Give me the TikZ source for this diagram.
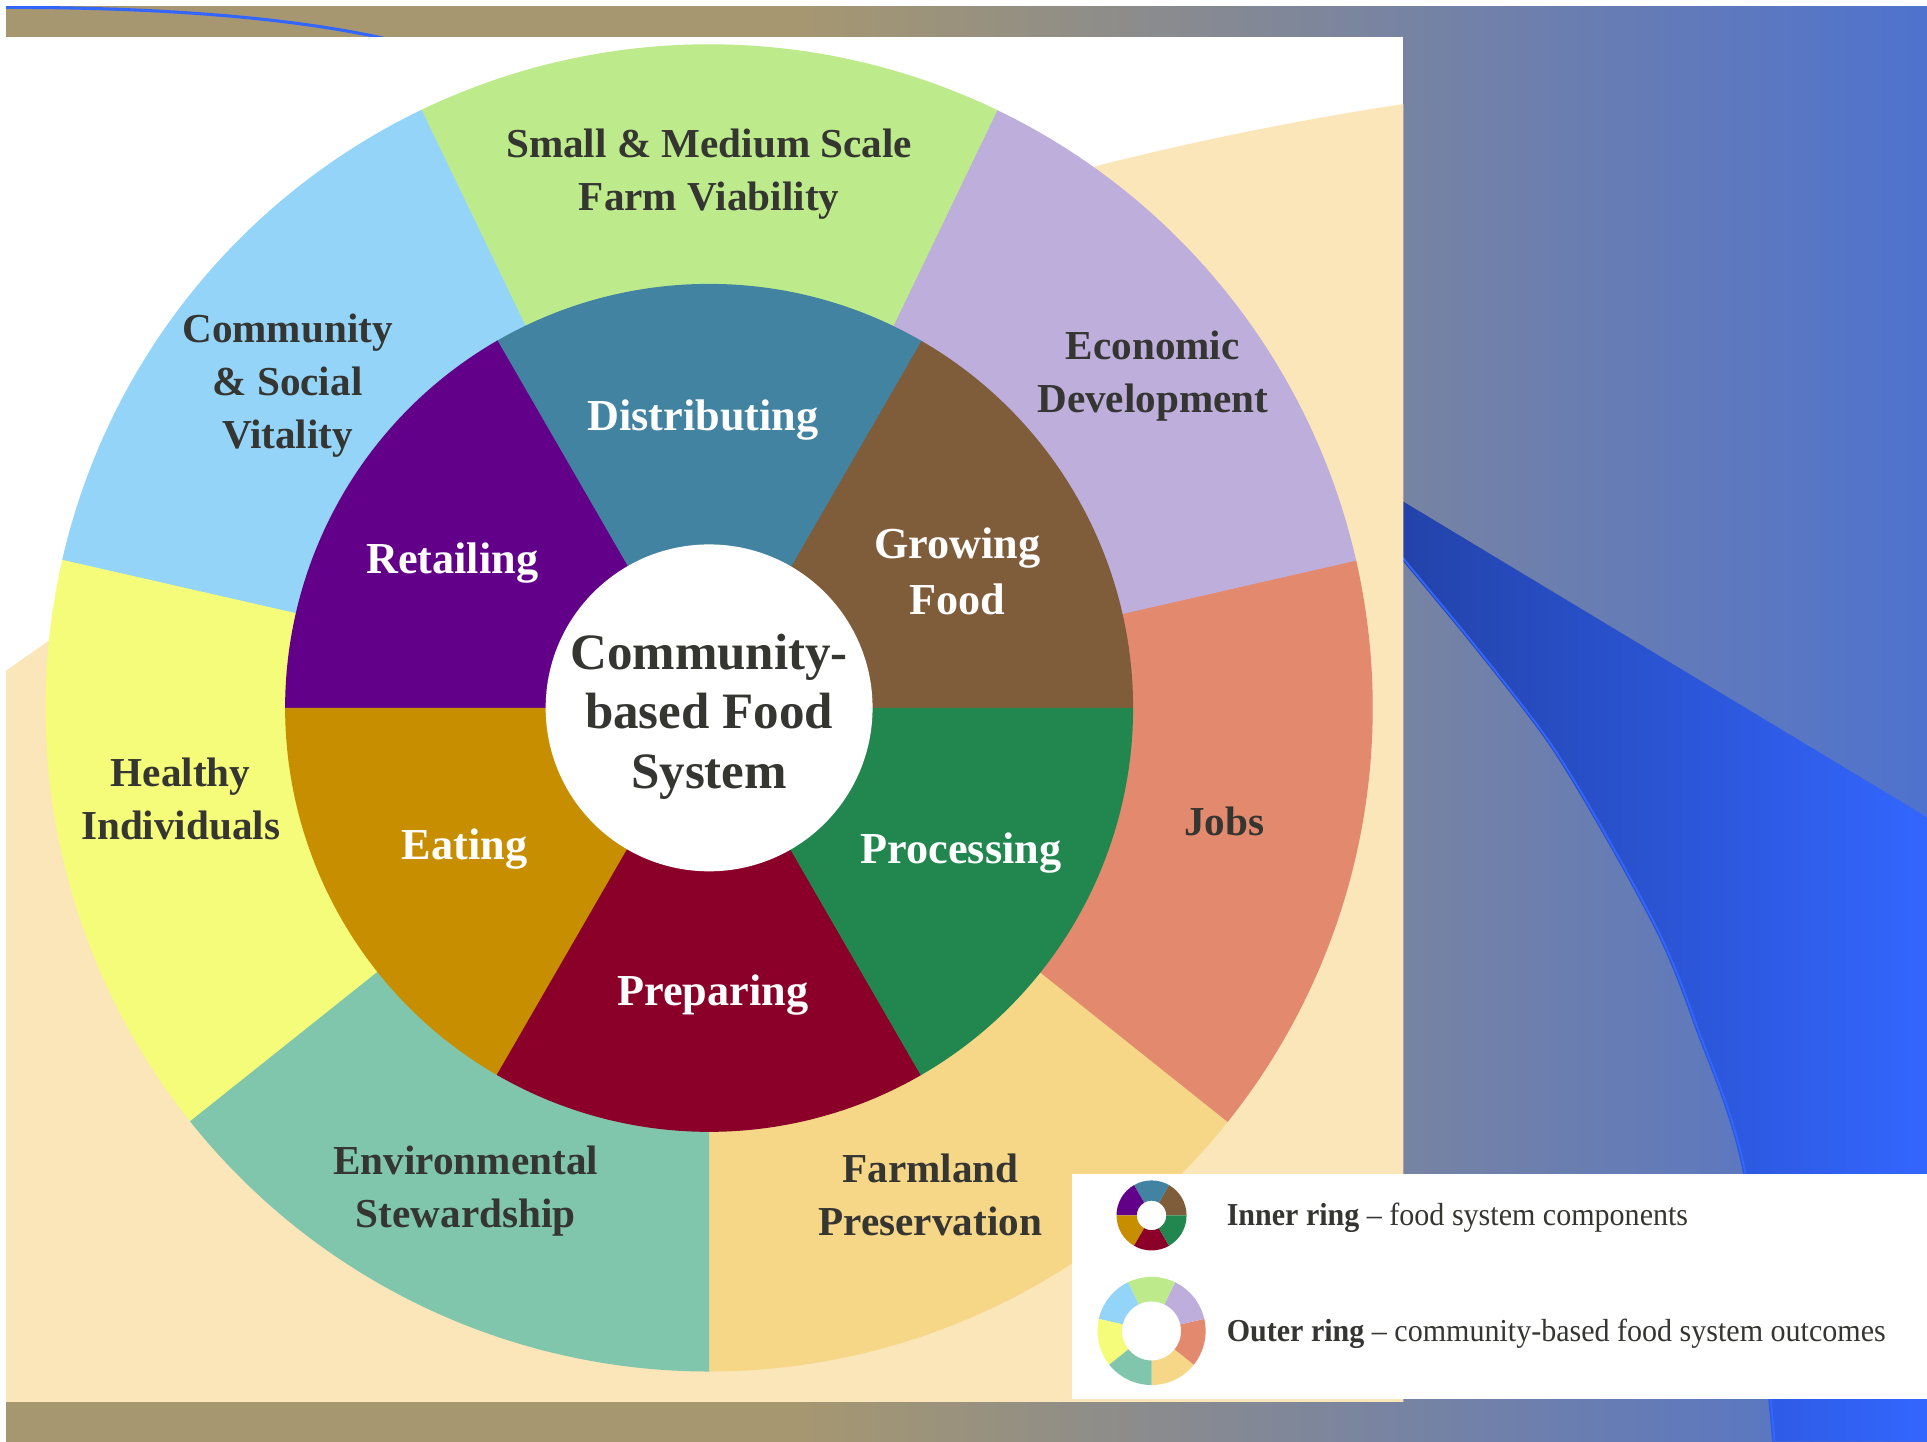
\documentclass[tikz,border=0pt]{standalone}
\usepackage{fontspec}
\setmainfont{Liberation Serif}
\usepackage{graphicx}
\definecolor{ctan}{HTML}{A69770}
\definecolor{cbluer}{HTML}{4E72CE}
\definecolor{cswl}{HTML}{2241A5}
\definecolor{cswr}{HTML}{3366FF}
\definecolor{cbeige}{HTML}{FAE6B8}
\definecolor{cfarm}{HTML}{F6D687}
\definecolor{cjobs}{HTML}{E3896E}
\definecolor{cecon}{HTML}{BEAEDC}
\definecolor{csmall}{HTML}{BDEB8C}
\definecolor{ccommu}{HTML}{93D4F8}
\definecolor{chealth}{HTML}{F5FC7A}
\definecolor{cenvir}{HTML}{80C6AC}
\definecolor{cgrow}{HTML}{7F5C3A}
\definecolor{cdistr}{HTML}{4283A2}
\definecolor{cretail}{HTML}{62008A}
\definecolor{ceat}{HTML}{C78F00}
\definecolor{cprep}{HTML}{8B0028}
\definecolor{cproc}{HTML}{21874F}
\definecolor{ctxt}{HTML}{353532}
\newcommand\pieslice[4]{\fill[#1] (0,0) -- (#2:#4) arc[start angle=#2, end angle=#3, radius=#4] -- cycle;
  \draw[#1, line width=0.6] (0,0) -- (#2:#4);}
\newcommand\ringslice[5]{\fill[#1] (#2:#4) arc[start angle=#2, end angle=#3, radius=#4] -- (#3:#5) arc[start angle=#3, end angle=#2, radius=#5] -- cycle;}
\tikzset{
  outerlab/.style={text=ctxt, align=center, inner sep=0, font=\fontsize{33.5}{43}\selectfont\bfseries},
  innerlab/.style={text=white, align=center, inner sep=0, font=\fontsize{36}{45}\selectfont\bfseries},
  centerlab/.style={text=ctxt, align=center, inner sep=0, font=\fontsize{41.5}{48.5}\selectfont\bfseries},
  leglab/.style={text=ctxt, anchor=west, inner sep=0, font=\fontsize{26}{30}\selectfont}
}
\begin{document}
\begin{tikzpicture}[x=1pt,y=1pt]
\useasboundingbox (0,0) rectangle (1568,1173);
\fill[white] (0,0) rectangle (1568,1173);
% background bands and right area
\fill[ctan] (5,0) rectangle (651,1168);
\shade[left color=ctan, right color=cbluer] (650,0) rectangle (1568,1168);
% swoosh
\shade[left color=cswl, right color=cswr] (1120,778) -- (1568,508) -- (1568,0) -- (1442,0)
  -- plot[smooth] coordinates {(1442,0) (1418,219) (1378,340) (1350,410) (1304,495) (1259,569) (1202,643) (1142,716) (1120,743)} -- cycle;
\draw[cswr, line width=1.5] plot[smooth] coordinates {(1444,0) (1420,219) (1380,340) (1352,410) (1306,495) (1261,569) (1204,643) (1144,716) (1122,743)};
% top-left thin line
\begin{scope}
\clip (5,1143) rectangle (1568,1168);
\draw[cswr, line width=2.5] (5,1167) .. controls (150,1167) and (250,1156) .. (316,1141);
\end{scope}
% white panel with beige disc
\fill[white] (5,33) rectangle (1142,1143);
\begin{scope}
\clip (5,33) rectangle (1142,1143);
\fill[cbeige] (1545,-1538.6) circle[radius=2657.3];
\end{scope}
% wheel
\begin{scope}[shift={(577,597)}]
\pieslice{cfarm}{-90}{-38.5714}{540}
\pieslice{cjobs}{-38.5714}{12.8571}{540}
\pieslice{cecon}{12.8571}{64.2857}{540}
\pieslice{csmall}{64.2857}{115.7143}{540}
\pieslice{ccommu}{115.7143}{167.1429}{540}
\pieslice{chealth}{167.1429}{218.5714}{540}
\pieslice{cenvir}{218.5714}{270}{540}
\pieslice{cgrow}{0}{60}{345}
\pieslice{cdistr}{60}{120}{345}
\pieslice{cretail}{120}{180}{345}
\pieslice{ceat}{180}{240}{345}
\pieslice{cprep}{240}{300}{345}
\pieslice{cproc}{300}{360}{345}
\fill[white] (0,0) circle[radius=133];
\end{scope}
% outer labels
\node[outerlab] (small) at (577,1031) {Small \& Medium Scale\\Farm Viability};
\node[outerlab] (commu) at (234,859) {Community\\\& Social\\Vitality};
\node[outerlab] (econ) at (938,867) {Economic\\Development};
\node[outerlab] (jobs) at (996,505) {Jobs};
\node[outerlab] (farm) at (757,201) {Farmland\\Preservation};
\node[outerlab] (envir) at (379,204) {Environmental\\Stewardship};
\node[outerlab] (health) at (147,523) {Healthy\\Individuals};
% inner labels
\node[innerlab] (distr) at (572,831) {Distributing};
\node[innerlab] (growlab) at (779,708) {Growing\\Food};
\node[innerlab] (proc) at (782,479) {Processing};
\node[innerlab] (prep) at (580,363) {Preparing};
\node[innerlab] (eat) at (378,482) {Eating};
\node[innerlab] (retail) at (368,715) {Retailing};
% centre
\node[centerlab] (centre) at (577,590) {Community-\\based Food\\System};
% legend
\fill[white] (872,35) rectangle (1568,218);
\begin{scope}[shift={(937,184)}]
\ringslice{cgrow}{0}{60}{28.5}{12}
\ringslice{cdistr}{60}{120}{28.5}{12}
\ringslice{cretail}{120}{180}{28.5}{12}
\ringslice{ceat}{180}{240}{28.5}{12}
\ringslice{cprep}{240}{300}{28.5}{12}
\ringslice{cproc}{300}{360}{28.5}{12}
\end{scope}
\begin{scope}[shift={(937,90)}]
\ringslice{cfarm}{-90}{-38.5714}{44}{24}
\ringslice{cjobs}{-38.5714}{12.8571}{44}{24}
\ringslice{cecon}{12.8571}{64.2857}{44}{24}
\ringslice{csmall}{64.2857}{115.7143}{44}{24}
\ringslice{ccommu}{115.7143}{167.1429}{44}{24}
\ringslice{chealth}{167.1429}{218.5714}{44}{24}
\ringslice{cenvir}{218.5714}{270}{44}{24}
\end{scope}
\node[leglab] (leg1) at (998,182) {\scalebox{0.94}[1]{\textbf{Inner ring} – food system components}};
\node[leglab] (leg2) at (998,88) {\scalebox{0.94}[1]{\textbf{Outer ring} – community-based food system outcomes}};
\end{tikzpicture}
\end{document}
